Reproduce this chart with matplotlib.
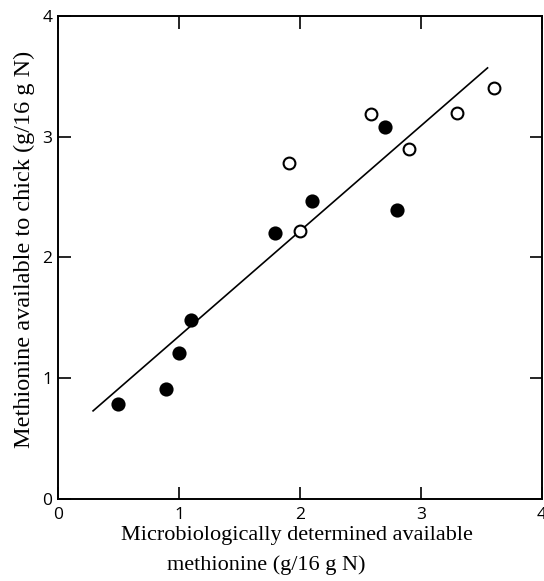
import numpy as np
import matplotlib
matplotlib.use("Agg")
import matplotlib.pyplot as plt

# filled circles
filled_x = [0.50, 0.89, 1.00, 1.10, 1.79, 2.10, 2.70, 2.80]
filled_y = [0.79, 0.91, 1.21, 1.48, 2.20, 2.47, 3.08, 2.39]

# open circles
open_x = [1.91, 2.00, 2.59, 2.90, 3.30, 3.60]
open_y = [2.78, 2.22, 3.19, 2.90, 3.20, 3.40]

# regression line end points
line_x = [0.29, 3.55]
line_y = [0.73, 3.57]

ticks = [0, 1, 2, 3, 4]
tick_labels = ["0", "1", "2", "3", "4"]

fig = plt.figure(figsize=(5.44, 5.81), dpi=100)
ax = fig.add_axes([0.1066, 0.1411, 0.8897, 0.8314])

ax.plot(line_x, line_y, color="black", lw=1.2)
ax.plot(filled_x, filled_y, "o", ms=9, mfc="black", mec="black", mew=1.2, clip_on=False)
ax.plot(open_x, open_y, "o", ms=8.5, mfc="white", mec="black", mew=1.5, clip_on=False)

ax.set_xlim(0, 4)
ax.set_ylim(0, 4)
ax.set_xticks(ticks)
ax.set_xticklabels(tick_labels)
ax.set_yticks(ticks)
ax.set_yticklabels(tick_labels)

ax.tick_params(direction="in", length=9, width=1.2, top=True, right=True,
               labelsize=12.5, pad=4)
ax.tick_params(axis="x", pad=6)
for lab in ax.get_xticklabels() + ax.get_yticklabels():
    lab.set_family("Open Sans")
for s in ax.spines.values():
    s.set_linewidth(1.4)

# x label: two lines, second one sits a bit to the left
fig.text(0.546, 0.079, "Microbiologically determined available",
         family="Liberation Serif", fontsize=16, ha="center", va="center")
fig.text(0.489, 0.0275, "methionine (g/16 g N)",
         family="Liberation Serif", fontsize=16, ha="center", va="center")
# y label, centred a little above the axes middle
fig.text(0.045, 0.57, "Methionine available to chick (g/16 g N)",
         family="Liberation Serif", fontsize=17.5, rotation=90,
         ha="center", va="center")

fig.savefig("out.png", dpi=100)
